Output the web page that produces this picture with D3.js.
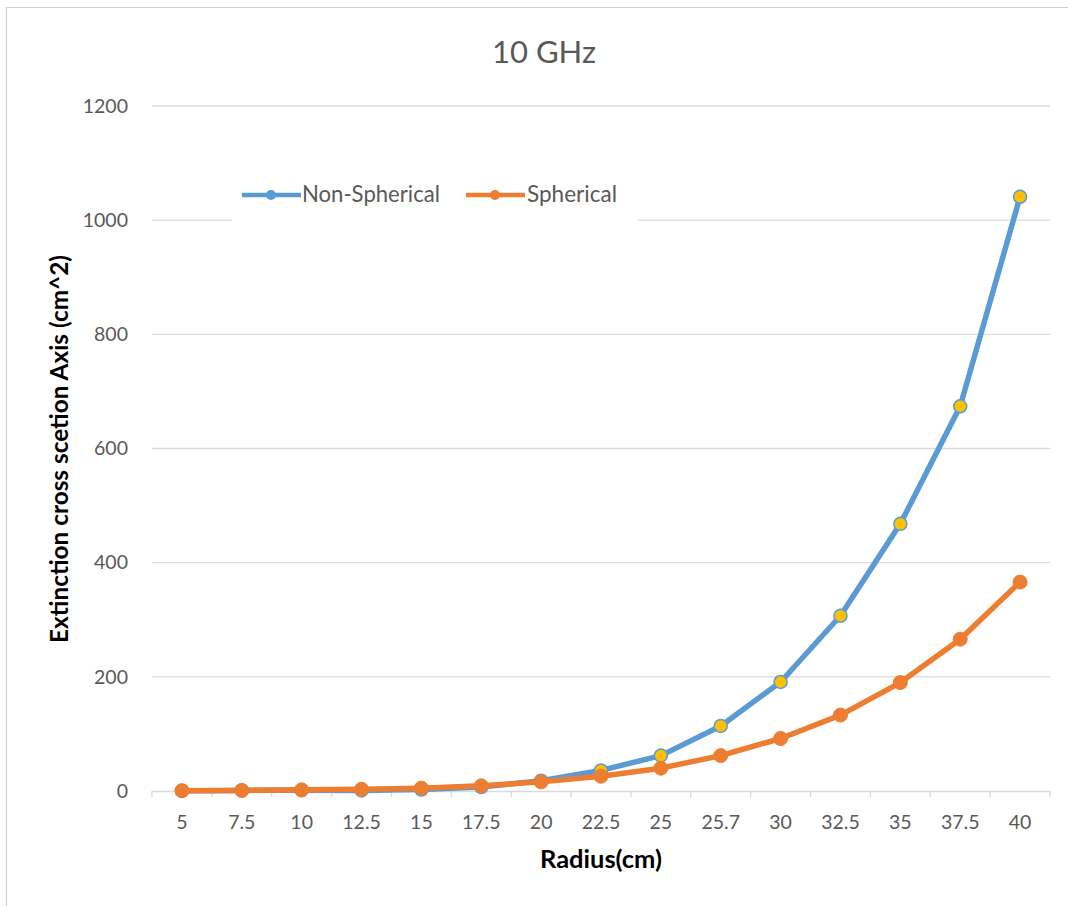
<!DOCTYPE html>
<html><head><meta charset="utf-8">
<script src="https://cdn.jsdelivr.net/npm/d3@7"></script>
<style>body{margin:0;background:#fff;}svg{display:block;font-family:Lato,"Open Sans",sans-serif;}</style>
</head><body>
<svg id="c" width="1068" height="906"></svg>
<script>
const categories = ["5","7.5","10","12.5","15","17.5","20","22.5","25","25.7","30","32.5","35","37.5","40"];
const nonSpherical = [0.5,1,1.5,1,2.5,7,18,36,62,114,191,307,468,674,1041];
const spherical = [0.5,1,2,3,5,9,16,26,40,62,92,133,190,266,366];
const yTicks = [0,200,400,600,800,1000,1200];
const seriesNames = ["Non-Spherical","Spherical"];

(function(){
const svg = d3.select("#c");
const W = 1068, H = 906;
const pL = 152, pR = 1050, pT = 106, pB = 791;

function fit(sel, target){
  const n = sel.node();
  const fs = parseFloat(sel.attr("font-size"));
  const w = n.getComputedTextLength();
  if (w > 0) sel.attr("font-size", (fs * target / w).toFixed(2));
  return sel;
}

// outer frame
svg.append("path").attr("d", `M6.5,${H} V7.5 H${W}`).attr("fill","none").attr("stroke","#cfcfcf").attr("stroke-width",1.2);

const x = d3.scaleBand().domain(categories).range([pL, pR]);
const y = d3.scaleLinear().domain([0,1200]).range([pB, pT]);

// gridlines
svg.append("g").selectAll("line").data(yTicks.filter(d=>d>0)).join("line")
  .attr("x1", pL).attr("x2", pR)
  .attr("y1", d=>y(d)).attr("y2", d=>y(d))
  .attr("stroke","#d9d9d9").attr("stroke-width",1.3);

// x axis
const xAxis = svg.append("g").attr("transform",`translate(0,${pB})`)
  .call(d3.axisBottom(x).tickSize(0).tickPadding(24));
xAxis.select(".domain").attr("stroke","#d9d9d9").attr("stroke-width",1.3);
xAxis.selectAll("text").attr("fill","#595959").attr("font-size",19.5).attr("font-family","Lato, sans-serif");
// boundary tick marks
const bounds = categories.map(c=>x(c)).concat([pR]);
svg.append("g").selectAll("line").data(bounds).join("line")
  .attr("x1", d=>d).attr("x2", d=>d).attr("y1", pB).attr("y2", pB+6)
  .attr("stroke","#d9d9d9").attr("stroke-width",1.3);

// y axis labels
const yAxis = svg.append("g").attr("transform",`translate(${pL},0)`)
  .call(d3.axisLeft(y).tickValues(yTicks).tickFormat(d3.format("d")).tickSize(0).tickPadding(24));
yAxis.select(".domain").remove();
yAxis.selectAll("text").attr("fill","#595959").attr("font-size",19.5).attr("font-family","Lato, sans-serif");

// titles
fit(svg.append("text").attr("x",544).attr("y",63).attr("text-anchor","middle")
  .attr("font-size",30).attr("fill","#595959").text("10 GHz"), 104);
fit(svg.append("text").attr("x",601).attr("y",868).attr("text-anchor","middle")
  .attr("font-size",22).attr("font-weight","bold").attr("fill","#000").text("Radius(cm)"), 122);
fit(svg.append("text").attr("transform","translate(68,449) rotate(-90)").attr("text-anchor","middle")
  .attr("font-size",22).attr("font-weight","bold").attr("fill","#000").text("Extinction cross scetion Axis (cm^2)"), 388);

const cx = c => x(c) + x.bandwidth()/2;
const line = d3.line().x((d,i)=>cx(categories[i])).y(d=>y(d));

// series
svg.append("path").datum(nonSpherical).attr("d", line).attr("fill","none")
  .attr("stroke","#5B9BD5").attr("stroke-width",5.5).attr("stroke-linejoin","round");
svg.append("g").selectAll("circle").data(nonSpherical).join("circle")
  .attr("cx",(d,i)=>cx(categories[i])).attr("cy",d=>y(d)).attr("r",6.5)
  .attr("fill","#FFC000").attr("stroke","#5B9BD5").attr("stroke-width",1.5);

svg.append("path").datum(spherical).attr("d", line).attr("fill","none")
  .attr("stroke","#ED7D31").attr("stroke-width",5.5).attr("stroke-linejoin","round");
svg.append("g").selectAll("circle").data(spherical).join("circle")
  .attr("cx",(d,i)=>cx(categories[i])).attr("cy",d=>y(d)).attr("r",7)
  .attr("fill","#ED7D31").attr("stroke","#ED7D31").attr("stroke-width",1);

// legend
const lg = svg.append("g");
lg.append("rect").attr("x",232).attr("y",172).attr("width",406).attr("height",52).attr("fill","#fff");
const legItems = [
  {name: seriesNames[0], x0: 242, color:"#5B9BD5", tx: 302, w: 138},
  {name: seriesNames[1], x0: 466, color:"#ED7D31", tx: 527, w: 90}
];
legItems.forEach(it=>{
  lg.append("line").attr("x1",it.x0).attr("x2",it.x0+59).attr("y1",195).attr("y2",195)
    .attr("stroke",it.color).attr("stroke-width",4.5);
  lg.append("circle").attr("cx",it.x0+29).attr("cy",195).attr("r",5).attr("fill",it.color);
  fit(lg.append("text").attr("x",it.tx).attr("y",202).attr("font-size",20).attr("fill","#595959").text(it.name), it.w);
});
})();
</script>
</body></html>
